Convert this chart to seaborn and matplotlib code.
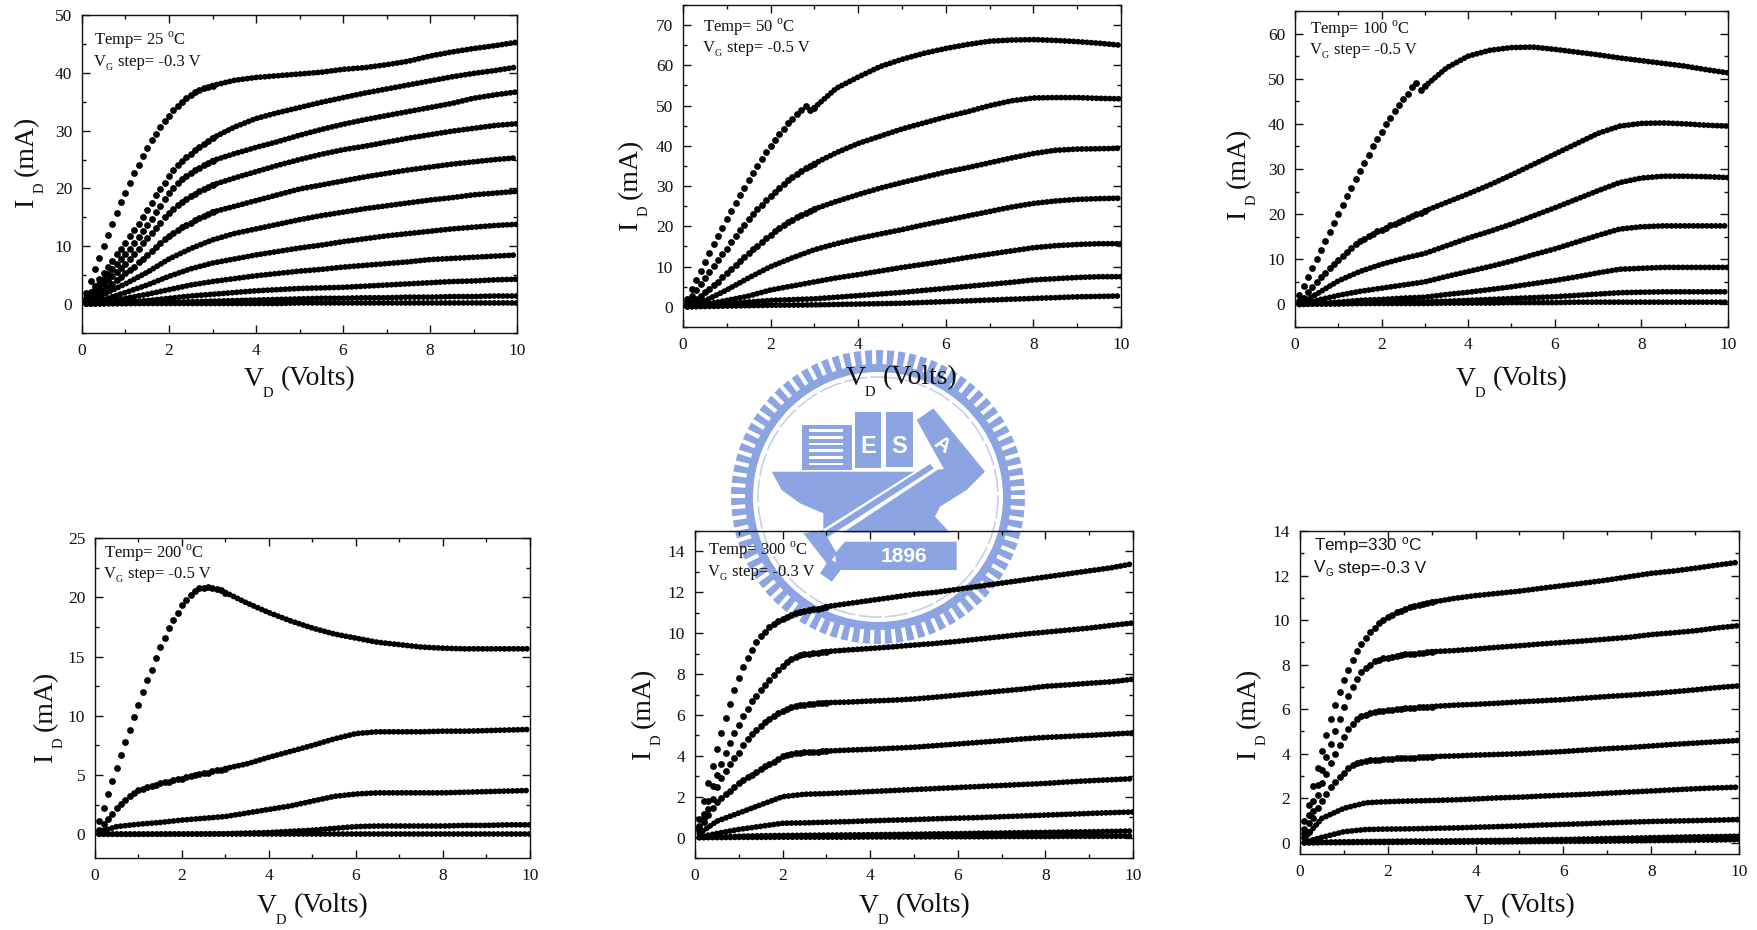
import numpy as np
import pandas as pd
import matplotlib
matplotlib.use("Agg")
import matplotlib.pyplot as plt
from matplotlib.patches import Polygon, Rectangle, Wedge, Circle
from matplotlib.ticker import MultipleLocator
import seaborn as sns

# Drain voltage grids (V)
FINE_X = [0.1, 0.2, 0.3, 0.4, 0.5, 0.6, 0.7, 0.8, 0.9, 1.0, 1.1, 1.2, 1.3, 1.4, 1.5,
          1.6, 1.7, 1.8, 1.9, 2.0, 2.1, 2.2, 2.3, 2.4, 2.5, 2.6, 2.7, 2.8, 2.9, 3.0]
LOW_X = [0.1, 0.5, 1.0, 1.5, 2.0, 2.5]
TAIL_X = [3.0, 3.5, 4.0, 4.5, 5.0, 5.5, 6.0, 6.5, 7.0, 7.5, 8.0, 8.5, 9.0, 9.5, 10.0]

# 25 C
T25_FINE = [
    [2, 4, 6, 8, 10, 12, 13.9, 15.7, 17.6, 19.3, 21, 22.6, 24.1, 25.6, 27, 28.3, 29.5, 30.6, 31.6, 32.6, 33.5, 34.2, 35, 35.6, 36.1, 36.6, 37, 37.3, 37.6, 37.8],
    [1, 2.1, 3.2, 4.3, 5.4, 6.5, 7.5, 8.6, 9.6, 10.6, 11.7, 12.8, 13.9, 15, 16.2, 17.4, 18.8, 19.9, 21, 22.2, 23.2, 24, 24.8, 25.4, 26, 26.6, 27.2, 27.7, 28.2, 28.7],
    [.8, 1.7, 2.6, 3.4, 4.3, 5.2, 6, 6.9, 7.8, 8.7, 9.6, 10.6, 11.6, 12.6, 13.7, 14.8, 15.9, 17, 18.2, 19.3, 20.1, 20.9, 21.6, 22.2, 22.7, 23.2, 23.6, 24, 24.4, 24.8],
    [.6, 1.3, 2, 2.7, 3.4, 4.1, 4.8, 5.5, 6.2, 7, 7.8, 8.7, 9.6, 10.5, 11.4, 12.3, 13.2, 14.1, 15, 15.8, 16.5, 17.1, 17.7, 18.2, 18.7, 19.1, 19.5, 19.9, 20.3, 20.6],
    [.4, .9, 1.4, 1.9, 2.4, 2.9, 3.5, 4.1, 4.7, 5.3, 5.9, 6.5, 7.2, 7.8, 8.5, 9.2, 9.9, 10.6, 11.2, 11.8, 12.3, 12.8, 13.3, 13.7, 14.1, 14.5, 14.9, 15.2, 15.6, 15.9],
]
T25_LOW = [
    [.2, 1.7, 3.5, 5.5, 7.8, 9.6],
    [.1, .8, 2, 3.3, 4.8, 6.1],
    [.1, .4, 1, 1.7, 2.5, 3.3],
    [0, .1, .4, .6, 1, 1.4],
    [0, .1, .1, .2, .3, .4],
    [0, .05, .1, .1, .1, .1],
]
T25_TAIL = [
    [37.8, 38.7, 39.2, 39.5, 39.8, 40.1, 40.6, 40.9, 41.4, 42, 42.9, 43.6, 44.2, 44.7, 45.3],
    [28.7, 30.6, 32.1, 33.1, 34, 34.9, 35.7, 36.5, 37.2, 37.9, 38.6, 39.3, 39.9, 40.4, 41],
    [24.8, 26, 27.1, 28.1, 29.2, 30.2, 31.1, 31.9, 32.6, 33.3, 34, 34.7, 35.6, 36.2, 36.7],
    [20.6, 21.8, 22.9, 24, 25, 25.9, 26.7, 27.3, 28, 28.7, 29.3, 29.9, 30.4, 30.9, 31.2],
    [15.9, 16.9, 17.9, 18.9, 19.9, 20.6, 21.3, 22, 22.6, 23.2, 23.7, 24.2, 24.6, 25, 25.3],
    [11.1, 12.2, 13, 13.8, 14.6, 15.3, 15.9, 16.5, 17, 17.5, 18, 18.4, 18.9, 19.2, 19.5],
    [7.1, 7.8, 8.5, 9.1, 9.7, 10.2, 10.8, 11.3, 11.8, 12.2, 12.6, 13, 13.3, 13.6, 13.8],
    [3.9, 4.4, 4.9, 5.3, 5.7, 6, 6.4, 6.7, 7, 7.3, 7.7, 7.9, 8.1, 8.3, 8.5],
    [1.7, 2, 2.3, 2.5, 2.7, 2.8, 2.9, 3.1, 3.3, 3.5, 3.7, 3.9, 4, 4.2, 4.3],
    [.5, .6, .7, .8, .9, 1, 1, 1.1, 1.1, 1.2, 1.2, 1.3, 1.3, 1.4, 1.4],
    [.1, .1, .1, .1, .2, .2, .2, .2, .2, .2, .2, .2, .2, .2, .2],
]

# 50 C
T50_FINE = [
    [2, 4.5, 6.8, 9, 11.1, 13.3, 15.5, 17.5, 19.7, 21.8, 23.8, 25.8, 27.7, 29.6, 31.5, 33.3, 35, 36.7, 38.4, 40, 41.5, 43, 44.3, 45.6, 46.7, 47.9, 49, 49.8, 48.8, 49.5],
    [1.1, 2.6, 4.2, 5.8, 7.2, 8.7, 10.2, 11.7, 13.1, 14.5, 16, 17.5, 19, 20.4, 21.8, 23, 24.2, 25.4, 26.5, 27.6, 28.6, 29.6, 30.5, 31.4, 32.2, 33, 33.8, 34.4, 35, 35.6],
    [.5, 1.2, 2, 2.8, 3.6, 4.5, 5.4, 6.3, 7.3, 8.4, 9.4, 10.4, 11.4, 12.4, 13.4, 14.3, 15.2, 16.1, 17, 17.9, 18.8, 19.6, 20.3, 21, 21.7, 22.3, 22.9, 23.4, 23.9, 24.3],
]
T50_LOW = [
    [.2, 1.5, 4.2, 7.2, 10, 12.2],
    [.1, .6, 1.6, 2.7, 4.2, 5.2],
    [0, .3, .8, 1.2, 1.6, 1.8],
    [0, .1, .2, .3, .4, .45],
]
T50_TAIL = [
    [49.5, 54.3, 57.1, 59.7, 61.5, 63, 64.2, 65.2, 66, 66.3, 66.4, 66.2, 65.9, 65.5, 65],
    [35.6, 38.3, 40.6, 42.4, 44.2, 45.7, 47.2, 48.5, 50, 51.2, 51.9, 52, 52, 51.8, 51.7],
    [24.3, 26.2, 27.9, 29.5, 30.9, 32.2, 33.5, 34.6, 35.8, 37, 38.1, 38.9, 39.2, 39.3, 39.4],
    [14.2, 15.7, 17, 18.1, 19.2, 20.4, 21.5, 22.6, 23.7, 24.8, 25.7, 26.3, 26.7, 26.9, 27],
    [6.2, 7.2, 8, 8.9, 9.8, 10.6, 11.4, 12.3, 13.1, 13.9, 14.7, 15.2, 15.5, 15.7, 15.7],
    [2, 2.4, 2.8, 3.2, 3.6, 4.1, 4.6, 5.1, 5.6, 6.1, 6.7, 7, 7.3, 7.5, 7.5],
    [.5, .6, .7, .8, .9, 1.1, 1.3, 1.5, 1.7, 1.9, 2.1, 2.3, 2.5, 2.6, 2.7],
]

# 100 C
T100_FINE = [
    [2, 4, 6, 8, 10, 12, 14, 16, 18, 20, 22, 24, 25.8, 27.7, 29.5, 31.4, 33.1, 35, 36.6, 38.2, 39.9, 41.4, 42.9, 44.2, 45.5, 46.7, 48.1, 49, 47.5, 48.3],
    [.7, 1.5, 2.8, 3.9, 5, 6, 7, 8, 9, 9.9, 10.8, 11.7, 12.6, 13.3, 14, 14.6, 15.2, 15.7, 16.2, 16.5, 17, 17.5, 17.9, 18.3, 18.8, 19.2, 19.6, 20, 20.3, 20.7],
]
T100_LOW = [
    [.1, 2.3, 5.2, 7.3, 8.9, 10.2],
    [.1, .9, 2, 2.9, 3.6, 4.3],
    [.05, .2, .5, .9, 1.1, 1.4],
    [0, .1, .2, .3, .4, .5],
    [0, .1, .1, .2, .2, .2],
]
T100_TAIL = [
    [48.3, 52.4, 55, 56.3, 56.9, 57, 56.5, 55.9, 55.3, 54.6, 54, 53.4, 52.8, 52, 51.3],
    [20.7, 22.6, 24.5, 26.5, 28.7, 31, 33.3, 35.6, 37.9, 39.5, 40.1, 40.2, 40, 39.7, 39.5],
    [11.3, 13, 14.7, 16.2, 17.8, 19.6, 21.4, 23.3, 25.2, 27, 28, 28.4, 28.4, 28.3, 28.1],
    [5, 6.2, 7.3, 8.4, 9.6, 11, 12.3, 13.8, 15.3, 16.7, 17.2, 17.4, 17.4, 17.4, 17.4],
    [1.6, 2.2, 2.7, 3.3, 3.9, 4.6, 5.3, 6.1, 7, 7.8, 8, 8.2, 8.2, 8.2, 8.2],
    [.6, .7, .9, 1.1, 1.3, 1.5, 1.7, 2, 2.3, 2.6, 2.7, 2.8, 2.8, 2.8, 2.8],
    [.2, .3, .3, .3, .4, .4, .4, .5, .5, .5, .5, .5, .5, .5, .5],
]

# 200 C
T200_FINE = [
    [1.1, 2.25, 3.4, 4.5, 5.6, 6.7, 7.75, 8.8, 9.9, 10.9, 12, 13, 13.9, 14.9, 15.8, 16.6, 17.4, 18.1, 18.7, 19.35, 19.8, 20.2, 20.55, 20.75, 20.8, 20.85, 20.8, 20.7, 20.6, 20.4],
    [.4, .85, 1.3, 1.75, 2.2, 2.55, 2.9, 3.2, 3.45, 3.7, 3.85, 4, 4.1, 4.2, 4.3, 4.4, 4.45, 4.55, 4.65, 4.7, 4.8, 4.9, 5, 5.05, 5.15, 5.2, 5.3, 5.4, 5.45, 5.55],
]
T200_LOW = [
    [.2, .65, .85, 1, 1.2, 1.35],
    [0, 0, 0, .01, .02, .03],
    [0, 0, 0, 0, 0, 0],
]
T200_TAIL = [
    [20.4, 19.5, 18.7, 18, 17.4, 16.9, 16.55, 16.2, 16, 15.8, 15.7, 15.65, 15.65, 15.65, 15.65],
    [5.55, 5.95, 6.5, 7, 7.5, 8.05, 8.5, 8.65, 8.65, 8.65, 8.7, 8.7, 8.75, 8.8, 8.85],
    [1.5, 1.8, 2.1, 2.4, 2.8, 3.2, 3.4, 3.5, 3.5, 3.5, 3.5, 3.55, 3.6, 3.65, 3.7],
    [.05, .1, .15, .25, .35, .5, .65, .7, .7, .7, .7, .75, .75, .8, .8],
    [0, 0, 0, 0, 0, 0, 0, 0, 0, 0, 0, 0, 0, 0, 0],
]

# 300 C
T300_FINE = [
    [.9, 1.8, 2.65, 3.5, 4.35, 5.1, 5.85, 6.55, 7.2, 7.8, 8.35, 8.8, 9.2, 9.55, 9.85, 10.05, 10.3, 10.45, 10.6, 10.7, 10.8, 10.9, 10.97, 11.02, 11.07, 11.12, 11.17, 11.2, 11.25, 11.3],
    [.55, 1.15, 1.8, 2.5, 3.05, 3.6, 4.15, 4.65, 5.1, 5.5, 5.95, 6.3, 6.7, 6.95, 7.2, 7.45, 7.7, 7.95, 8.2, 8.4, 8.6, 8.75, 8.85, 8.92, 8.97, 9, 9.02, 9.05, 9.07, 9.1],
    [.45, .95, 1.4, 1.9, 2.45, 2.9, 3.25, 3.6, 3.9, 4.15, 4.55, 4.8, 5.05, 5.25, 5.45, 5.65, 5.8, 5.95, 6.1, 6.2, 6.3, 6.38, 6.43, 6.47, 6.5, 6.52, 6.54, 6.56, 6.58, 6.6],
    [.35, .75, 1.1, 1.45, 1.75, 1.95, 2.15, 2.3, 2.48, 2.65, 2.82, 2.95, 3.05, 3.2, 3.35, 3.48, 3.6, 3.72, 3.85, 3.97, 4.05, 4.1, 4.13, 4.16, 4.18, 4.19, 4.2, 4.21, 4.22, 4.23],
]
T300_LOW = [
    [.2, .8, 1.2, 1.6, 2, 2.12],
    [.03, .2, .4, .55, .7, .72],
    [0, .03, .06, .09, .1, .11],
    [0, 0, .01, .01, .02, .02],
]
T300_TAIL = [
    [11.3, 11.45, 11.6, 11.75, 11.9, 12, 12.15, 12.3, 12.45, 12.6, 12.75, 12.9, 13.05, 13.2, 13.4],
    [9.1, 9.18, 9.25, 9.33, 9.42, 9.5, 9.6, 9.72, 9.83, 9.95, 10.05, 10.15, 10.25, 10.38, 10.5],
    [6.6, 6.63, 6.68, 6.72, 6.78, 6.87, 6.97, 7.07, 7.17, 7.27, 7.4, 7.47, 7.55, 7.62, 7.75],
    [4.23, 4.28, 4.32, 4.37, 4.42, 4.5, 4.58, 4.66, 4.74, 4.83, 4.9, 4.95, 5, 5.06, 5.12],
    [2.15, 2.2, 2.25, 2.3, 2.35, 2.4, 2.45, 2.5, 2.55, 2.6, 2.65, 2.72, 2.78, 2.83, 2.88],
    [.75, .78, .82, .85, .88, .92, .95, .98, 1.02, 1.06, 1.1, 1.14, 1.18, 1.22, 1.25],
    [.12, .13, .14, .15, .16, .18, .19, .21, .22, .24, .25, .27, .28, .3, .32],
    [.02, .02, .03, .03, .03, .04, .04, .04, .05, .05, .05, .06, .06, .06, .07],
]

# 330 C
T330_FINE = [
    [.97, 1.7, 2.55, 3.36, 4.13, 4.86, 5.56, 6.2, 6.77, 7.3, 7.77, 8.2, 8.6, 8.92, 9.2, 9.46, 9.66, 9.87, 10, 10.13, 10.25, 10.35, 10.43, 10.5, 10.57, 10.62, 10.67, 10.72, 10.76, 10.8],
    [.6, 1.25, 1.9, 2.6, 3.25, 3.85, 4.45, 5, 5.57, 6.1, 6.6, 7, 7.35, 7.65, 7.85, 8, 8.15, 8.22, 8.28, 8.32, 8.36, 8.4, 8.43, 8.46, 8.48, 8.5, 8.52, 8.54, 8.56, 8.58],
    [.45, .9, 1.45, 2.15, 2.67, 3.1, 3.6, 4, 4.4, 4.75, 5.1, 5.35, 5.55, 5.68, 5.76, 5.82, 5.87, 5.9, 5.93, 5.96, 5.98, 6, 6.02, 6.04, 6.05, 6.07, 6.08, 6.09, 6.1, 6.12],
    [.25, .5, 1.1, 1.57, 1.9, 2.2, 2.5, 2.75, 2.95, 3.15, 3.35, 3.5, 3.58, 3.63, 3.67, 3.7, 3.72, 3.74, 3.76, 3.77, 3.78, 3.79, 3.8, 3.81, 3.82, 3.83, 3.84, 3.85, 3.86, 3.87],
]
T330_LOW = [
    [.2, 1.1, 1.55, 1.8, 1.85, 1.88],
    [.03, .25, .5, .6, .62, .63],
    [0, .03, .05, .06, .07, .08],
    [0, .01, .01, .02, .02, .03],
]
T330_TAIL = [
    [10.8, 10.97, 11.1, 11.2, 11.3, 11.43, 11.55, 11.67, 11.8, 11.95, 12.1, 12.2, 12.33, 12.47, 12.6],
    [8.58, 8.63, 8.7, 8.78, 8.85, 8.93, 9, 9.07, 9.15, 9.23, 9.35, 9.43, 9.52, 9.65, 9.75],
    [6.12, 6.18, 6.22, 6.27, 6.33, 6.38, 6.43, 6.5, 6.57, 6.63, 6.7, 6.78, 6.87, 6.97, 7.05],
    [3.87, 3.9, 3.94, 3.97, 4, 4.05, 4.1, 4.17, 4.23, 4.28, 4.35, 4.42, 4.48, 4.54, 4.6],
    [1.9, 1.93, 1.97, 2.02, 2.05, 2.1, 2.14, 2.18, 2.23, 2.28, 2.33, 2.38, 2.43, 2.47, 2.5],
    [.65, .67, .7, .73, .76, .8, .83, .86, .9, .93, .96, .98, 1, 1.02, 1.05],
    [.08, .09, .1, .11, .12, .14, .15, .17, .19, .21, .23, .25, .27, .28, .3],
    [.03, .03, .04, .04, .05, .06, .07, .07, .08, .09, .1, .11, .12, .13, .15],
]

W, H = 1758, 930
INK = "#111111"
LOGO = "#8CA5E2"
SERIF = "Liberation Serif"
SANS = "Liberation Sans"

sns.set_style("ticks")
plt.rcParams.update({
    "font.family": [SERIF],
    "mathtext.fontset": "custom",
    "mathtext.rm": SERIF,
    "mathtext.sf": SANS,
    "text.color": INK,
    "axes.edgecolor": INK,
    "axes.labelcolor": INK,
    "xtick.color": INK,
    "ytick.color": INK,
})

fig = plt.figure(figsize=(W / 100, H / 100), dpi=100, facecolor="white")


def px_rect(left, right, top, bottom):
    return [left / W, 1 - bottom / H, (right - left) / W, (bottom - top) / H]


def put(x, y, text, **kw):
    fig.text(x / W, 1 - y / H, text, **kw)


def draw_logo():
    """School seal behind the panels, in figure pixels."""
    bg = fig.add_axes([0, 0, 1, 1], zorder=0)
    bg.set_xlim(0, W)
    bg.set_ylim(H, 0)
    bg.axis("off")
    cx, cy = 878, 497

    def z(points):
        return [(720 + x / 3, 340 + y / 3) for x, y in points]

    bg.add_patch(Wedge((cx, cy), 147, 0, 360, width=22, fc=LOGO, ec="none"))
    for ang in np.arange(0, 360, 4.4):
        a = np.deg2rad(ang)
        p0 = (cx + 133 * np.cos(a), cy + 133 * np.sin(a))
        p1 = (cx + 149 * np.cos(a), cy + 149 * np.sin(a))
        bg.plot([p0[0], p1[0]], [p0[1], p1[1]], color="white", lw=2.9, solid_capstyle="butt")
    bg.add_patch(Circle((cx, cy), 120, fc="none", ec="#C3D0EE", lw=1.2, ls=(0, (14, 2))))

    # books
    bg.add_patch(Polygon(z([(245, 255), (395, 255), (395, 390), (245, 390)]), fc=LOGO, ec="none"))
    for y in [268, 288, 308, 328, 348, 368]:
        bg.add_patch(Rectangle((720 + 268 / 3, 340 + y / 3), 100 / 3, 8 / 3, fc="white", ec="none"))
    bg.add_patch(Polygon(z([(405, 215), (482, 215), (482, 385), (405, 385)]), fc=LOGO, ec="none"))
    bg.add_patch(Polygon(z([(497, 215), (580, 215), (580, 380), (497, 380)]), fc=LOGO, ec="none"))
    bg.add_patch(Polygon(z([(590, 240), (640, 205), (795, 395), (690, 420)]), fc=LOGO, ec="none"))
    # anvil body
    bg.add_patch(Polygon(z([(155, 395), (600, 395), (690, 385), (795, 395), (740, 450), (660, 500), (645, 530),
                            (690, 578), (310, 578), (310, 520), (240, 490), (185, 450)]), fc=LOGO, ec="none"))
    # hammer handle
    bg.add_patch(Polygon(z([(635, 362), (655, 388), (320, 610), (275, 590)]), fc="white", ec="none"))
    bg.add_patch(Polygon(z([(630, 372), (642, 385), (310, 600), (290, 590)]), fc=LOGO, ec="none"))
    bg.add_patch(Polygon(z([(250, 580), (310, 570), (350, 640), (335, 660), (370, 680), (335, 725), (300, 700), (320, 670)]),
                         fc=LOGO, ec="none"))
    # year plate
    bg.add_patch(Polygon(z([(375, 605), (710, 605), (710, 690), (350, 690), (345, 640)]), fc=LOGO, ec="none"))
    bg.text(720 + 553 / 3, 340 + 650 / 3, "1896", color="white", family=SANS,
            fontweight="bold", fontsize=15, ha="center", va="center")
    bg.text(720 + 445 / 3, 340 + 320 / 3, "E", color="white", family=SANS, fontweight="bold",
            fontsize=17, ha="center", va="center")
    bg.text(720 + 537 / 3, 340 + 318 / 3, "S", color="white", family=SANS, fontweight="bold",
            fontsize=17, ha="center", va="center")
    bg.text(720 + 665 / 3, 340 + 315 / 3, "A", color="white", family=SANS, fontweight="bold",
            fontsize=15, rotation=-35, ha="center", va="center")


def curves_frame(fine, low, tail):
    dots, lines = [], []
    n_fine = len(fine)
    for ys in fine:
        dots.append(pd.DataFrame({"vd": FINE_X, "id": ys}))
    for i, ys in enumerate(tail):
        if i < n_fine:
            lines.append(pd.DataFrame({"vd": TAIL_X, "id": ys, "curve": i}))
        else:
            lines.append(pd.DataFrame({"vd": LOW_X + TAIL_X, "id": low[i - n_fine] + ys, "curve": i}))
    return pd.concat(dots), pd.concat(lines)


def draw_panel(box, ylim, major, fine, low, tail, xlabel_px, ylabel_px, note_px, temp, step, sans=False):
    ax = fig.add_axes(px_rect(*box), zorder=1)
    ax.patch.set_alpha(0)
    dots, lines = curves_frame(fine, low, tail)
    # dense traces: round dashes stand in for the overlapping measurement dots
    sns.lineplot(data=lines, x="vd", y="id", units="curve", estimator=None, sort=False, color="black",
                 linewidth=4.2, linestyle=(0, (0.01, 0.75)), dash_capstyle="round", ax=ax, legend=False)
    sns.scatterplot(data=dots, x="vd", y="id", color="black", s=24, linewidth=0, ax=ax, legend=False)

    ax.set_xlim(0, 10)
    ax.set_ylim(*ylim)
    ax.xaxis.set_major_locator(MultipleLocator(2))
    ax.xaxis.set_minor_locator(MultipleLocator(1))
    ax.yaxis.set_major_locator(MultipleLocator(major))
    ax.yaxis.set_minor_locator(MultipleLocator(major / 2))
    ax.tick_params(which="major", direction="in", length=6, width=1, top=True, right=True, labelsize=12.5, pad=7)
    ax.tick_params(which="minor", direction="in", length=3, width=1, top=True, right=True)
    for spine in ax.spines.values():
        spine.set_visible(True)
        spine.set_linewidth(1)
    ax.set_xlabel("")
    ax.set_ylabel("")

    # axis labels with the low-set subscript of the original
    xc, yc = xlabel_px
    put(xc - 55, yc, "V", fontsize=20, ha="left", va="center")
    put(xc - 36, yc + 14, "D", fontsize=10.5, ha="left", va="center")
    put(xc - 18, yc, "(Volts)", fontsize=20, ha="left", va="center")
    xc, yc = ylabel_px
    put(xc, yc + 45, "I", fontsize=20, ha="center", va="bottom", rotation=90)
    put(xc + 14, yc + 31, "D", fontsize=10.5, ha="center", va="bottom", rotation=90)
    put(xc, yc + 14, "(mA)", fontsize=20, ha="center", va="bottom", rotation=90)

    x, y1, y2 = note_px
    if sans:
        fam, size, gap = SANS, 12.3, ""
        line1 = rf"Temp={temp} $\mathsf{{^{{o}}}}$C"
    else:
        fam, size, gap = SERIF, 12, " "
        line1 = rf"Temp= {temp} $^{{\mathrm{{o}}}}$C"
    put(x, y1, line1, family=fam, fontsize=size, ha="left", va="center")
    put(x, y2, "V", family=fam, fontsize=size, ha="left", va="center")
    put(x + 12, y2 + 5, "G", family=fam, fontsize=7, ha="left", va="center")
    put(x + 24, y2, f"step={gap}{step} V", family=fam, fontsize=size, ha="left", va="center")
    return ax


draw_logo()
draw_panel((82, 517, 15, 333), (-5, 50), 10, T25_FINE, T25_LOW, T25_TAIL, (299, 379), (26, 162), (94, 40, 62), "25", "-0.3")
draw_panel((683, 1121, 5, 327), (-5, 75), 10, T50_FINE, T50_LOW, T50_TAIL, (901, 378), (630, 185), (703, 27, 48), "50", "-0.5")
draw_panel((1295, 1728, 11, 327), (-5, 65), 10, T100_FINE, T100_LOW, T100_TAIL, (1511, 379), (1238, 174), (1310, 29, 50), "100", "-0.5")
draw_panel((95, 530, 538, 858), (-2, 25), 5, T200_FINE, T200_LOW, T200_TAIL, (312, 906), (45, 717), (104, 553, 574), "200", "-0.5")
draw_panel((695, 1133, 531, 858), (-1, 15), 2, T300_FINE, T300_LOW, T300_TAIL, (914, 906), (643, 714), (708, 550, 572), "300", "-0.3")
draw_panel((1300, 1739, 531, 854), (-0.5, 14), 2, T330_FINE, T330_LOW, T330_TAIL, (1519, 906), (1248, 714), (1314, 546, 568), "330", "-0.3", sans=True)

fig.savefig("out.png", dpi=100, facecolor="white")
